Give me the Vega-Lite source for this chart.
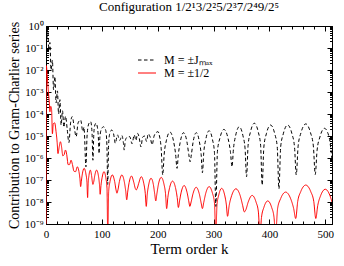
{
"$schema": "https://vega.github.io/schema/vega-lite/v6.json",
"width": 286, "height": 198,
"autosize": {"type": "none"},
"padding": {"left": 46, "top": 26, "right": 12, "bottom": 42},
"background": "white",
"title": {"text": "Configuration 1/2¹3/2²5/2³7/2⁴9/2⁵", "font": "Liberation Serif", "fontSize": 13, "fontWeight": "normal", "color": "black", "offset": 6},
"config": {
 "view": {"stroke": "black", "strokeWidth": 1},
 "axis": {"domainColor": "black", "domainWidth": 1, "tickColor": "black", "tickWidth": 1, "labelColor": "black", "titleColor": "black", "labelFont": "Liberation Serif", "titleFont": "Liberation Serif", "labelFontSize": 11, "titleFontWeight": "normal", "grid": false, "labelOverlap": false, "labelFlush": false, "labelBound": false}
},
"datasets": {
"curves": [
{"series":"half","k":0,"L":-9.5},{"series":"half","k":0.6,"L":-1.8},{"series":"half","k":2,"L":-2.2},{"series":"half","k":4,"L":-2.9},{"series":"half","k":6,"L":-3.5},{"series":"half","k":7,"L":-3.9},{"series":"half","k":8.5,"L":-3.65},{"series":"half","k":10,"L":-3.8},{"series":"half","k":11.5,"L":-4.9},{"series":"half","k":13,"L":-4.45},{"series":"half","k":15.5,"L":-4.4},{"series":"half","k":18,"L":-4.8},{"series":"half","k":20,"L":-5.3},{"series":"half","k":21.5,"L":-5.8},
{"series":"half","k":23.6,"L":-5.5},{"series":"half","k":25.8,"L":-5.26},{"series":"half","k":27.9,"L":-5.5},{"series":"half","k":29.2,"L":-5.78},{"series":"half","k":30,"L":-5.9},
{"series":"half","k":32.4,"L":-5.85},{"series":"half","k":34.8,"L":-5.64},{"series":"half","k":37.1,"L":-5.85},{"series":"half","k":38.6,"L":-6.15},{"series":"half","k":39.5,"L":-6.3},
{"series":"half","k":42.1,"L":-6.3},{"series":"half","k":44.8,"L":-6.1},{"series":"half","k":47.4,"L":-6.3},{"series":"half","k":50,"L":-6.6},
{"series":"half","k":53,"L":-6.62},{"series":"half","k":56,"L":-6.4},{"series":"half","k":59,"L":-6.62},{"series":"half","k":60.8,"L":-6.95},{"series":"half","k":62,"L":-7.3},
{"series":"half","k":63.3,"L":-7.05},{"series":"half","k":65.1,"L":-6.72},{"series":"half","k":68.3,"L":-6.47},{"series":"half","k":71.4,"L":-6.72},{"series":"half","k":73.3,"L":-7.1},{"series":"half","k":74.5,"L":-7.8},
{"series":"half","k":75.5,"L":-7.15},{"series":"half","k":76.9,"L":-6.8},{"series":"half","k":79.3,"L":-6.55},{"series":"half","k":81.6,"L":-6.8},{"series":"half","k":83.1,"L":-7.1},{"series":"half","k":84,"L":-7.2},
{"series":"half","k":85.3,"L":-7.1},{"series":"half","k":87.3,"L":-6.8},{"series":"half","k":90.5,"L":-6.55},{"series":"half","k":93.8,"L":-6.8},{"series":"half","k":95.7,"L":-7.2},{"series":"half","k":97,"L":-7.65},
{"series":"half","k":98.4,"L":-7.25},{"series":"half","k":100.4,"L":-6.9},{"series":"half","k":103.8,"L":-6.62},{"series":"half","k":107.1,"L":-6.9},{"series":"half","k":109.2,"L":-7.37},{"series":"half","k":110.5,"L":-9.5},
{"series":"half","k":112.2,"L":-7.52},{"series":"half","k":114.6,"L":-7.07},{"series":"half","k":118.8,"L":-6.77},{"series":"half","k":122.9,"L":-7.07},{"series":"half","k":125.4,"L":-7.45},{"series":"half","k":127,"L":-7.6},
{"series":"half","k":128.8,"L":-7.45},{"series":"half","k":131.4,"L":-7.07},{"series":"half","k":135.8,"L":-6.77},{"series":"half","k":140.1,"L":-7.07},{"series":"half","k":142.8,"L":-7.52},{"series":"half","k":144.5,"L":-7.9},
{"series":"half","k":146.2,"L":-7.55},{"series":"half","k":148.8,"L":-7.12},{"series":"half","k":153,"L":-6.82},{"series":"half","k":157.3,"L":-7.12},{"series":"half","k":159.8,"L":-7.38},{"series":"half","k":161.5,"L":-7.45},
{"series":"half","k":163.3,"L":-7.38},{"series":"half","k":166,"L":-7.15},{"series":"half","k":170.5,"L":-6.85},{"series":"half","k":175,"L":-7.15},{"series":"half","k":177.7,"L":-7.6},{"series":"half","k":179.5,"L":-8.2},
{"series":"half","k":181.2,"L":-7.67},{"series":"half","k":183.8,"L":-7.22},{"series":"half","k":188,"L":-6.92},{"series":"half","k":192.3,"L":-7.22},{"series":"half","k":194.8,"L":-7.67},{"series":"half","k":196.5,"L":-7.95},
{"series":"half","k":198.5,"L":-7.63},{"series":"half","k":201.4,"L":-7.18},{"series":"half","k":206.3,"L":-6.88},{"series":"half","k":211.1,"L":-7.18},{"series":"half","k":214,"L":-7.63},{"series":"half","k":216,"L":-8.3},
{"series":"half","k":218.1,"L":-7.8},{"series":"half","k":221.3,"L":-7.35},{"series":"half","k":226.5,"L":-7.05},{"series":"half","k":231.8,"L":-7.35},{"series":"half","k":234.9,"L":-7.8},{"series":"half","k":237,"L":-8.25},
{"series":"half","k":239.1,"L":-7.95},{"series":"half","k":242.1,"L":-7.55},{"series":"half","k":247.3,"L":-7.25},{"series":"half","k":252.4,"L":-7.55},{"series":"half","k":255.5,"L":-7.95},{"series":"half","k":257.5,"L":-8.2},
{"series":"half","k":259.8,"L":-8.0},{"series":"half","k":263.1,"L":-7.63},{"series":"half","k":268.8,"L":-7.33},{"series":"half","k":274.4,"L":-7.63},{"series":"half","k":277.8,"L":-8.05},{"series":"half","k":280,"L":-8.3},
{"series":"half","k":282.4,"L":-8.02},{"series":"half","k":286,"L":-7.6},{"series":"half","k":292,"L":-7.3},{"series":"half","k":298,"L":-7.6},{"series":"half","k":301.6,"L":-8.05},{"series":"half","k":304,"L":-9.5},
{"series":"half","k":306.1,"L":-8.13},{"series":"half","k":309.3,"L":-7.68},{"series":"half","k":314.5,"L":-7.38},{"series":"half","k":319.8,"L":-7.68},{"series":"half","k":322.9,"L":-8.13},{"series":"half","k":325,"L":-8.65},
{"series":"half","k":328,"L":-8.15},{"series":"half","k":332.5,"L":-7.7},{"series":"half","k":340,"L":-7.4},{"series":"half","k":347.5,"L":-7.7},{"series":"half","k":352,"L":-8.15},{"series":"half","k":355,"L":-8.45},
{"series":"half","k":357.8,"L":-8.35},{"series":"half","k":362,"L":-8.0},{"series":"half","k":369,"L":-7.7},{"series":"half","k":376,"L":-8.0},{"series":"half","k":380.2,"L":-8.45},{"series":"half","k":383,"L":-9.5},
{"series":"half","k":385.8,"L":-8.7},{"series":"half","k":390,"L":-8.25},{"series":"half","k":397,"L":-7.95},{"series":"half","k":404,"L":-8.25},{"series":"half","k":408.2,"L":-8.7},{"series":"half","k":411,"L":-9.5},
{"series":"half","k":414.6,"L":-8.3},{"series":"half","k":420,"L":-7.85},{"series":"half","k":429,"L":-7.55},{"series":"half","k":438,"L":-7.85},{"series":"half","k":443.4,"L":-8.3},{"series":"half","k":447,"L":-8.75},
{"series":"half","k":450.6,"L":-7.98},{"series":"half","k":456,"L":-7.53},{"series":"half","k":465,"L":-7.23},{"series":"half","k":474,"L":-7.53},{"series":"half","k":479.4,"L":-7.98},{"series":"half","k":483,"L":-8.75},
{"series":"half","k":486.4,"L":-8.17},{"series":"half","k":491.5,"L":-7.72},{"series":"half","k":500,"L":-7.42},{"series":"half","k":508.5,"L":-7.72},{"series":"half","k":512,"L":-8.0},
{"series":"jmax","k":0,"L":0},{"series":"jmax","k":1.5,"L":-0.55},{"series":"jmax","k":3,"L":-0.15},{"series":"jmax","k":5,"L":-1.1},{"series":"jmax","k":7,"L":-0.75},{"series":"jmax","k":9,"L":-2.0},{"series":"jmax","k":11.5,"L":-1.55},{"series":"jmax","k":13.5,"L":-2.9},{"series":"jmax","k":16,"L":-2.3},{"series":"jmax","k":18,"L":-3.5},{"series":"jmax","k":20.5,"L":-2.95},{"series":"jmax","k":22.5,"L":-4.0},{"series":"jmax","k":25,"L":-3.35},{"series":"jmax","k":27,"L":-4.5},{"series":"jmax","k":29.5,"L":-3.85},{"series":"jmax","k":32,"L":-4.6},{"series":"jmax","k":35,"L":-4.1},{"series":"jmax","k":38,"L":-4.7},{"series":"jmax","k":41,"L":-5.3},{"series":"jmax","k":44,"L":-4.4},{"series":"jmax","k":47,"L":-4.12},{"series":"jmax","k":50.5,"L":-4.6},{"series":"jmax","k":54,"L":-5.03},{"series":"jmax","k":57.5,"L":-4.4},{"series":"jmax","k":62,"L":-4.27},{"series":"jmax","k":66,"L":-4.8},{"series":"jmax","k":68,"L":-4.6},{"series":"jmax","k":71.5,"L":-6.4},{"series":"jmax","k":73.5,"L":-5.0},{"series":"jmax","k":76.5,"L":-4.45},{"series":"jmax","k":80,"L":-4.35},{"series":"jmax","k":82.5,"L":-4.9},{"series":"jmax","k":84,"L":-6.1},{"series":"jmax","k":85.5,"L":-4.95},{"series":"jmax","k":87,"L":-4.55},{"series":"jmax","k":89.5,"L":-4.42},{"series":"jmax","k":92,"L":-4.6},{"series":"jmax","k":94,"L":-5.2},{"series":"jmax","k":95,"L":-5.8},{"series":"jmax","k":96.5,"L":-5.05},{"series":"jmax","k":99,"L":-4.7},{"series":"jmax","k":103,"L":-4.58},{"series":"jmax","k":107,"L":-4.75},{"series":"jmax","k":109,"L":-5.4},{"series":"jmax","k":110.5,"L":-7.2},{"series":"jmax","k":112,"L":-5.45},{"series":"jmax","k":114,"L":-4.9},{"series":"jmax","k":117.5,"L":-4.73},{"series":"jmax","k":121,"L":-4.9},{"series":"jmax","k":124,"L":-5.33},
{"series":"jmax","k":128,"L":-4.95},{"series":"jmax","k":132,"L":-5.2},{"series":"jmax","k":136,"L":-4.98},{"series":"jmax","k":138.5,"L":-5.3},{"series":"jmax","k":140,"L":-5.64},{"series":"jmax","k":142,"L":-5.2},{"series":"jmax","k":145.5,"L":-5.05},{"series":"jmax","k":150,"L":-5.03},{"series":"jmax","k":154,"L":-5.35},{"series":"jmax","k":158,"L":-4.95},{"series":"jmax","k":161,"L":-5.2},{"series":"jmax","k":164,"L":-4.88},{"series":"jmax","k":167,"L":-5.1},{"series":"jmax","k":170,"L":-5.5},{"series":"jmax","k":173,"L":-5.05},{"series":"jmax","k":177,"L":-5.0},{"series":"jmax","k":180,"L":-5.25},{"series":"jmax","k":183,"L":-4.9},{"series":"jmax","k":186.5,"L":-5.05},{"series":"jmax","k":190,"L":-5.4},{"series":"jmax","k":193.5,"L":-5.0},{"series":"jmax","k":197,"L":-4.85},{"series":"jmax","k":200.5,"L":-4.8},{"series":"jmax","k":203.5,"L":-5.05},{"series":"jmax","k":206,"L":-5.5},{"series":"jmax","k":209,"L":-6.77},
{"series":"jmax","k":211.6,"L":-5.82},{"series":"jmax","k":215.4,"L":-5.22},{"series":"jmax","k":221.8,"L":-4.82},{"series":"jmax","k":228.2,"L":-5.22},{"series":"jmax","k":232,"L":-5.82},{"series":"jmax","k":234.6,"L":-6.47},
{"series":"jmax","k":236.9,"L":-5.85},{"series":"jmax","k":240.5,"L":-5.25},{"series":"jmax","k":246.3,"L":-4.85},{"series":"jmax","k":252.2,"L":-5.25},{"series":"jmax","k":255.7,"L":-5.85},{"series":"jmax","k":258,"L":-6.17},
{"series":"jmax","k":260.2,"L":-5.85},{"series":"jmax","k":263.5,"L":-5.25},{"series":"jmax","k":269,"L":-4.85},{"series":"jmax","k":274.5,"L":-5.25},{"series":"jmax","k":277.8,"L":-5.85},{"series":"jmax","k":280,"L":-6.67},
{"series":"jmax","k":282.4,"L":-5.76},{"series":"jmax","k":286,"L":-5.16},{"series":"jmax","k":292,"L":-4.76},{"series":"jmax","k":298,"L":-5.16},{"series":"jmax","k":301.6,"L":-5.76},{"series":"jmax","k":304,"L":-8.2},
{"series":"jmax","k":306.9,"L":-5.7},{"series":"jmax","k":311.3,"L":-5.1},{"series":"jmax","k":318.5,"L":-4.7},{"series":"jmax","k":325.8,"L":-5.1},{"series":"jmax","k":330.1,"L":-5.7},{"series":"jmax","k":333,"L":-6.4},
{"series":"jmax","k":335.6,"L":-5.58},{"series":"jmax","k":339.5,"L":-4.98},{"series":"jmax","k":346,"L":-4.58},{"series":"jmax","k":352.5,"L":-4.98},{"series":"jmax","k":356.4,"L":-5.58},{"series":"jmax","k":359,"L":-6.85},
{"series":"jmax","k":361.8,"L":-5.42},{"series":"jmax","k":366,"L":-4.82},{"series":"jmax","k":373,"L":-4.42},{"series":"jmax","k":380,"L":-4.82},{"series":"jmax","k":384.2,"L":-5.42},{"series":"jmax","k":387,"L":-7.23},
{"series":"jmax","k":390,"L":-5.5},{"series":"jmax","k":394.5,"L":-4.9},{"series":"jmax","k":402,"L":-4.5},{"series":"jmax","k":409.5,"L":-4.9},{"series":"jmax","k":414,"L":-5.5},{"series":"jmax","k":417,"L":-7.4},
{"series":"jmax","k":420.1,"L":-5.5},{"series":"jmax","k":424.8,"L":-4.9},{"series":"jmax","k":432.5,"L":-4.5},{"series":"jmax","k":440.3,"L":-4.9},{"series":"jmax","k":444.9,"L":-5.5},{"series":"jmax","k":448,"L":-6.77},
{"series":"jmax","k":451.4,"L":-5.45},{"series":"jmax","k":456.5,"L":-4.85},{"series":"jmax","k":465,"L":-4.45},{"series":"jmax","k":473.5,"L":-4.85},{"series":"jmax","k":478.6,"L":-5.45},{"series":"jmax","k":482,"L":-6.75},
{"series":"jmax","k":485.3,"L":-5.65},{"series":"jmax","k":490.3,"L":-5.05},{"series":"jmax","k":498.5,"L":-4.65},{"series":"jmax","k":506.8,"L":-5.05},{"series":"jmax","k":510.2,"L":-5.65},{"series":"jmax","k":512,"L":-6.1}
]
},
"data": {"name": "curves"},
"layer": [
 {
  "mark": {"type": "line", "interpolate": "monotone", "clip": true, "strokeWidth": 1},
  "encoding": {
   "x": {"field": "k", "type": "quantitative", "scale": {"domain": [0, 512], "nice": false, "zero": false},
    "axis": {"orient": "bottom", "values": [0,20,40,60,80,100,120,140,160,180,200,220,240,260,280,300,320,340,360,380,400,420,440,460,480,500],
     "labelExpr": "datum.value % 100 === 0 ? datum.label : ''",
     "tickSize": {"condition": {"test": "datum.value % 100 === 0", "value": -5}, "value": -3},
     "labelPadding": 9, "title": "Term order k", "titleFontSize": 15, "titlePadding": 0}},
   "y": {"field": "L", "type": "quantitative", "scale": {"domain": [-9, 0], "nice": false, "zero": false},
    "axis": {"orient": "left",
     "values": [-9,-8.699,-8.523,-8.398,-8.301,-8.222,-8.155,-8.097,-8.046,-8,-7.699,-7.523,-7.398,-7.301,-7.222,-7.155,-7.097,-7.046,-7,-6.699,-6.523,-6.398,-6.301,-6.222,-6.155,-6.097,-6.046,-6,-5.699,-5.523,-5.398,-5.301,-5.222,-5.155,-5.097,-5.046,-5,-4.699,-4.523,-4.398,-4.301,-4.222,-4.155,-4.097,-4.046,-4,-3.699,-3.523,-3.398,-3.301,-3.222,-3.155,-3.097,-3.046,-3,-2.699,-2.523,-2.398,-2.301,-2.222,-2.155,-2.097,-2.046,-2,-1.699,-1.523,-1.398,-1.301,-1.222,-1.155,-1.097,-1.046,-1,-0.699,-0.523,-0.398,-0.301,-0.222,-0.155,-0.097,-0.046,0],
     "labelExpr": "datum.value === round(datum.value) ? ['10⁰','10⁻¹','10⁻²','10⁻³','10⁻⁴','10⁻⁵','10⁻⁶','10⁻⁷','10⁻⁸','10⁻⁹'][-datum.value] : ''",
     "tickSize": {"condition": {"test": "datum.value === round(datum.value)", "value": -5}, "value": -2.5},
     "labelPadding": 8, "title": "Contribution to Gram-Charlier series", "titleFontSize": 14, "titlePadding": 3}},
   "color": {"field": "series", "type": "nominal", "scale": {"domain": ["jmax", "half"], "range": ["#000000", "#ff0000"]},
    "legend": {"title": null, "orient": "none", "legendX": 95, "legendY": 28, "labelExpr": "datum.value === 'jmax' ? 'M = ±Jₘₐₓ' : 'M = ±1/2'", "labelFont": "Liberation Serif", "labelFontSize": 12, "labelColor": "black", "symbolType": "M-3,0H3", "symbolSize": 36, "symbolStrokeWidth": 1, "labelOffset": 11, "rowPadding": 1, "padding": 0}},
   "strokeDash": {"field": "series", "type": "nominal", "scale": {"domain": ["jmax", "half"], "range": [[3.5, 2.5], [1, 0]]},
    "legend": {"title": null, "orient": "none", "legendX": 95, "legendY": 28, "labelExpr": "datum.value === 'jmax' ? 'M = ±Jₘₐₓ' : 'M = ±1/2'", "labelFont": "Liberation Serif", "labelFontSize": 12, "labelColor": "black", "symbolType": "M-3,0H3", "symbolSize": 36, "symbolStrokeWidth": 1, "labelOffset": 11, "rowPadding": 1, "padding": 0}}
  }
 },
 {
  "mark": {"type": "point", "opacity": 0},
  "encoding": {
   "x": {"field": "k", "type": "quantitative", "scale": {"domain": [0, 512], "nice": false, "zero": false},
    "axis": {"orient": "top", "labels": false, "title": null, "values": [0,20,40,60,80,100,120,140,160,180,200,220,240,260,280,300,320,340,360,380,400,420,440,460,480,500],
     "tickSize": {"condition": {"test": "datum.value % 100 === 0", "value": -5}, "value": -3}}},
   "y": {"field": "L", "type": "quantitative", "scale": {"domain": [-9, 0], "nice": false, "zero": false},
    "axis": {"orient": "right", "labels": false, "title": null,
     "values": [-9,-8.699,-8.523,-8.398,-8.301,-8.222,-8.155,-8.097,-8.046,-8,-7.699,-7.523,-7.398,-7.301,-7.222,-7.155,-7.097,-7.046,-7,-6.699,-6.523,-6.398,-6.301,-6.222,-6.155,-6.097,-6.046,-6,-5.699,-5.523,-5.398,-5.301,-5.222,-5.155,-5.097,-5.046,-5,-4.699,-4.523,-4.398,-4.301,-4.222,-4.155,-4.097,-4.046,-4,-3.699,-3.523,-3.398,-3.301,-3.222,-3.155,-3.097,-3.046,-3,-2.699,-2.523,-2.398,-2.301,-2.222,-2.155,-2.097,-2.046,-2,-1.699,-1.523,-1.398,-1.301,-1.222,-1.155,-1.097,-1.046,-1,-0.699,-0.523,-0.398,-0.301,-0.222,-0.155,-0.097,-0.046,0],
     "tickSize": {"condition": {"test": "datum.value === round(datum.value)", "value": -5}, "value": -2.5}}}
  }
 }
],
"resolve": {"axis": {"x": "independent", "y": "independent"}}
}
